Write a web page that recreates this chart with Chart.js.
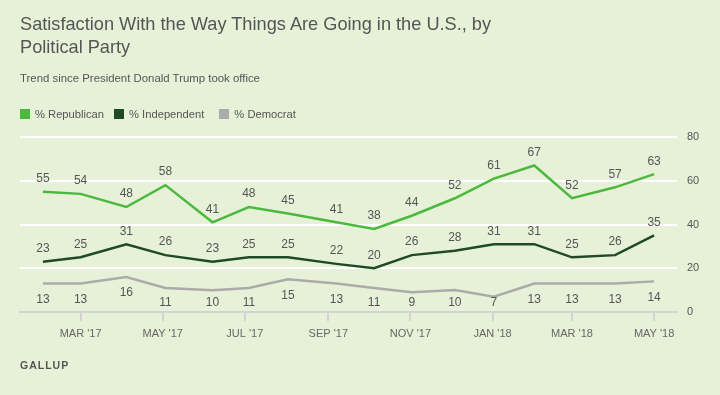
<!DOCTYPE html>
<html>
<head>
<meta charset="utf-8">
<script src="https://cdn.jsdelivr.net/npm/chart.js@4.4.1/dist/chart.umd.min.js"></script>
<style>
  html, body { margin: 0; padding: 0; }
  body {
    width: 720px; height: 395px; position: relative; overflow: hidden;
    background: #e7f1d8; color: #555;
    font-family: "Liberation Sans", Arial, sans-serif;
  }
  #chartWrap { position: absolute; left: 0; top: 0; width: 720px; height: 395px; }
  .title { position: absolute; left: 20px; top: 13px; font-size: 18.2px; line-height: 23px; z-index: 2; }
  .subtitle { position: absolute; left: 20px; top: 72px; font-size: 11.4px; z-index: 2; }
  .legend { position: absolute; left: 20px; top: 108px; font-size: 11.2px; display: flex; z-index: 2; }
  .legend .item { display: flex; align-items: center; margin-right: 10px; }
  .legend .item:nth-child(2) { margin-right: 15px; }
  .legend i { display: inline-block; width: 10px; height: 10px; margin-right: 5px; }
  .source { position: absolute; left: 20px; top: 359px; font-size: 10.5px; font-weight: bold; letter-spacing: 1px; z-index: 2; }
</style>
</head>
<body>
<div class="title">Satisfaction With the Way Things Are Going in the U.S., by<br>Political Party</div>
<div class="subtitle">Trend since President Donald Trump took office</div>
<div class="legend" id="legend"></div>
<div id="chartWrap"><canvas id="chart"></canvas></div>
<div class="source">GALLUP</div>

<script>
// poll field dates (start of each survey)
const surveyDates = [
  "2017-02-01", "2017-03-01", "2017-04-04", "2017-05-03", "2017-06-07", "2017-07-04",
  "2017-08-02", "2017-09-07", "2017-10-05", "2017-11-02", "2017-12-04",
  "2018-01-02", "2018-02-01", "2018-03-01", "2018-04-02", "2018-05-01"
];
const republican  = [55, 54, 48, 58, 41, 48, 45, 41, 38, 44, 52, 61, 67, 52, 57, 63];
const independent = [23, 25, 31, 26, 23, 25, 25, 22, 20, 26, 28, 31, 31, 25, 26, 35];
const democrat    = [13, 13, 16, 11, 10, 11, 15, 13, 11, 9, 10, 7, 13, 13, 13, 14];

const seriesNames  = ["% Republican", "% Independent", "% Democrat"];
const seriesColors = ["#4bb83e", "#1e4a26", "#ababab"];

const tickDates  = ["2017-03-01", "2017-05-01", "2017-07-01", "2017-09-01", "2017-11-01", "2018-01-01", "2018-03-01", "2018-05-01"];
const tickLabels = ["MAR '17", "MAY '17", "JUL '17", "SEP '17", "NOV '17", "JAN '18", "MAR '18", "MAY '18"];
const yTicks = [0, 20, 40, 60, 80];
const xRange = ["2017-01-15", "2018-05-18"];

const dayNum = (s) => Date.parse(s + "T00:00:00Z") / 86400000;
const toPoints = (values) => surveyDates.map((d, i) => ({ x: dayNum(d), y: values[i] }));

const FONT = "'Liberation Sans', Arial, sans-serif";

// legend
const legendEl = document.getElementById("legend");
seriesNames.forEach((name, i) => {
  const item = document.createElement("span");
  item.className = "item";
  item.innerHTML = '<i style="background:' + seriesColors[i] + '"></i>' + name;
  legendEl.appendChild(item);
});

// value labels above / below points
const valueLabels = {
  id: "valueLabels",
  afterDatasetsDraw(chart) {
    const ctx = chart.ctx;
    ctx.save();
    ctx.font = "12px " + FONT;
    ctx.fillStyle = "#555";
    ctx.textAlign = "center";
    ctx.textBaseline = "middle";
    chart.data.datasets.forEach((ds, i) => {
      const meta = chart.getDatasetMeta(i);
      meta.data.forEach((pt, j) => {
        let y = pt.y + ds.labelOffset;
        if (ds.labelOffset > 0) y = Math.min(y, 303);
        ctx.fillText(String(ds.data[j].y), pt.x, y);
      });
    });
    ctx.restore();
  }
};

function makeDataset(idx, values, offset) {
  return {
    label: seriesNames[idx],
    data: toPoints(values),
    borderColor: seriesColors[idx],
    backgroundColor: seriesColors[idx],
    borderWidth: 2.5,
    pointRadius: 0,
    tension: 0,
    fill: false,
    labelOffset: offset,
  };
}

new Chart(document.getElementById("chart"), {
  type: "line",
  data: {
    datasets: [
      makeDataset(0, republican, -13),
      makeDataset(1, independent, -13),
      makeDataset(2, democrat, 16),
    ],
  },
  options: {
    responsive: true,
    maintainAspectRatio: false,
    animation: false,
    layout: { padding: { left: 20, top: 137, right: 0, bottom: 0 } },
    plugins: {
      legend: { display: false },
      tooltip: { enabled: false },
    },
    scales: {
      x: {
        type: "linear",
        min: dayNum(xRange[0]),
        max: dayNum(xRange[1]),
        afterBuildTicks: (scale) => {
          scale.ticks = tickDates.map((d) => ({ value: dayNum(d) }));
        },
        afterFit: (scale) => { scale.height = 83; },
        grid: { drawOnChartArea: false, drawTicks: true, tickLength: 9, color: "#d3d3d3", lineWidth: 2 },
        border: { display: true, color: "#d3d3d3", width: 2 },
        ticks: {
          autoSkip: false,
          maxRotation: 0,
          padding: 6,
          color: "#666",
          font: { family: FONT, size: 11 },
          callback: (value, index) => tickLabels[index],
        },
      },
      y: {
        position: "right",
        min: 0,
        max: 80,
        afterBuildTicks: (scale) => {
          scale.ticks = yTicks.map((v) => ({ value: v }));
        },
        afterFit: (scale) => { scale.width = 43; },
        grid: {
          drawTicks: false,
          lineWidth: 2,
          color: (ctx) => (ctx.tick && ctx.tick.value === 0 ? "rgba(0,0,0,0)" : "#ffffff"),
        },
        border: { display: false },
        ticks: {
          padding: 10,
          color: "#555",
          font: { family: FONT, size: 11 },
        },
      },
    },
  },
  plugins: [valueLabels],
});
</script>
</body>
</html>
